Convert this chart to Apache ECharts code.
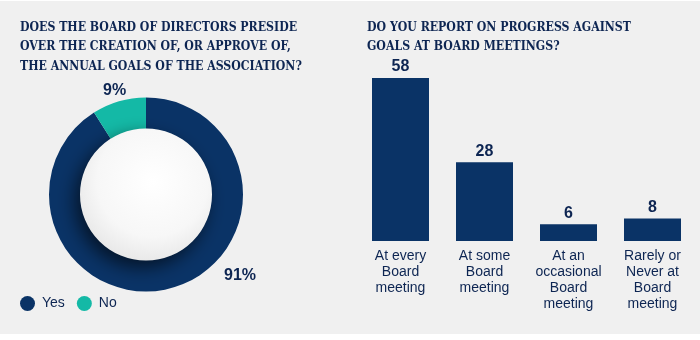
<!DOCTYPE html>
<html><head><meta charset="utf-8">
<script src="https://cdn.jsdelivr.net/npm/echarts@6/dist/echarts.min.js"></script>
<style>html,body{margin:0;padding:0;background:#fff}#c{width:700px;height:340px}</style>
</head><body><div id="c"></div>
<script>
const pieNames = ['Yes', 'No'];
const pieValues = [91, 9];
const barCategories = ['At every\nBoard\nmeeting', 'At some\nBoard\nmeeting', 'At an\noccasional\nBoard\nmeeting', 'Rarely or\nNever at\nBoard\nmeeting'];
const barValues = [58, 28, 6, 8];
const leftTitle = 'DOES THE BOARD OF DIRECTORS PRESIDE\nOVER THE CREATION OF, OR APPROVE OF,\nTHE ANNUAL GOALS OF THE ASSOCIATION?';
const rightTitle = 'DO YOU REPORT ON PROGRESS AGAINST\nGOALS AT BOARD MEETINGS?';

const NAVY = '#0a3366';
const TEAL = '#14b9a6';
const TXT = '#0d2552';
const chart = echarts.init(document.getElementById('c'));
const titleStyle = {fontFamily: '"DejaVu Serif Condensed", "DejaVu Serif", serif', fontWeight: 'bold', fontSize: 12.2, color: TXT, lineHeight: 19.5};
chart.setOption({
  backgroundColor: '#ffffff',
  graphic: [
    {type: 'rect', z: -10, shape: {x: 0, y: 1, width: 700, height: 333}, style: {fill: '#f0f0f0'}},
    {type: 'text', left: 103, top: 83, style: {text: pieValues[1] + '%', font: 'bold 16px "Liberation Sans"', fill: TXT}},
    {type: 'text', left: 224, top: 268, style: {text: pieValues[0] + '%', font: 'bold 16px "Liberation Sans"', fill: TXT}}
  ],
  title: [
    {left: 20, top: 18, text: leftTitle, textStyle: titleStyle, padding: 0},
    {left: 367, top: 18, text: rightTitle, textStyle: titleStyle, padding: 0}
  ],
  legend: {
    left: 20, top: 296, icon: 'circle', itemWidth: 15, itemHeight: 15, itemGap: 12, padding: 0,
    textStyle: {fontFamily: 'Liberation Sans', fontSize: 14, color: TXT, padding: [0, 0, 0, 2]},
    data: pieNames
  },
  grid: {left: 358.5, width: 336, top: 78, height: 163},
  xAxis: {
    type: 'category', data: barCategories,
    axisLine: {show: false}, axisTick: {show: false},
    axisLabel: {interval: 0, margin: 7, fontFamily: 'Liberation Sans', fontSize: 14, lineHeight: 16, color: TXT}
  },
  yAxis: {type: 'value', min: 0, max: 58, show: false, splitLine: {show: false}},
  series: [
    {
      type: 'pie', center: [146, 194.5], radius: [50, 97], startAngle: 90, clockwise: true,
      label: {show: false}, labelLine: {show: false}, silent: true,
      data: pieNames.map((n, i) => ({name: n, value: pieValues[i], itemStyle: {color: i === 0 ? NAVY : TEAL}}))
    },
    {
      type: 'pie', center: [146, 194.5], radius: [0, 66], silent: true, z: 5,
      label: {show: false}, labelLine: {show: false},
      data: [{value: 1, name: '', itemStyle: {
        color: {type: 'radial', x: 0.55, y: 0.4, r: 0.7, colorStops: [{offset: 0, color: '#ffffff'}, {offset: 0.6, color: '#f7f7f7'}, {offset: 1, color: '#e2e2e2'}]},
        shadowBlur: 18, shadowColor: 'rgba(0,0,0,0.6)', shadowOffsetX: -5, shadowOffsetY: 7
      }}],
      legendHoverLink: false
    },
    {
      type: 'bar', data: barValues, barWidth: 57,
      itemStyle: {color: NAVY},
      label: {show: true, position: 'top', distance: 3, fontFamily: 'Liberation Sans', fontWeight: 'bold', fontSize: 16, color: TXT}
    }
  ]
});
</script></body></html>
